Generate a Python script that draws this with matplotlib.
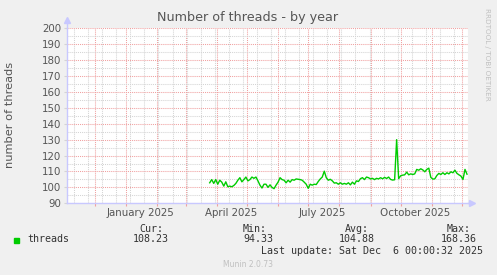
import matplotlib
matplotlib.use('Agg')
import matplotlib.pyplot as plt
import matplotlib.dates as mdates
import pandas as pd
import numpy as np

# series: one sample every 2 days, starting late March 2025
start_date = '2025-03-25'
step = '2D'
threads = [
    102.9, 104.9, 102.5, 104.9, 102.0, 104.5, 103.3, 100.8, 103.5, 100.4,
    100.8, 100.4, 101.2, 102.5, 104.5, 106.1, 103.5, 104.9, 106.5, 104.1,
    104.9, 106.5, 105.7, 106.5, 104.1, 101.4, 99.6, 102.0, 102.0, 100.0,
    101.6, 100.0, 99.2, 101.4, 103.3, 106.1, 104.9, 104.5, 102.9, 104.5,
    103.3, 104.9, 104.5, 105.3,
    105.1, 104.9, 104.5, 103.3, 102.0, 99.4, 102.0, 101.4, 102.0, 101.8,
    103.7, 105.3, 106.5, 110.2, 106.1, 104.5, 105.1, 104.1, 102.7, 102.9,
    102.0, 102.9, 102.0, 102.5, 102.0, 102.9, 101.6, 103.3, 102.0, 104.1,
    103.7, 105.5, 106.1, 104.9, 106.5, 106.1, 105.3, 105.7, 104.9, 105.7,
    105.3, 106.1,
    105.4, 106.3, 105.6, 106.5, 105.0, 104.6, 104.8, 130.0, 105.5, 107.3,
    107.7, 107.9, 109.6, 107.9, 108.5, 108.1, 108.5, 111.3, 110.8, 111.7,
    111.0, 109.8, 111.3, 112.1, 106.3, 105.2, 105.4, 107.5, 108.8, 108.1,
    109.2, 108.1, 109.2, 108.5, 109.8, 109.2, 110.8, 108.8, 107.9, 107.1,
    105.0, 111.3, 108.3,
]

x_start = '2024-11-03'
x_end = '2025-12-07'
month_labels = ['January 2025', 'April 2025', 'July 2025', 'October 2025']
month_label_dates = ['2025-01-15', '2025-04-15', '2025-07-15', '2025-10-15']

stat_names = ['Cur:', 'Min:', 'Avg:', 'Max:']
stat_values = ['108.23', '94.33', '104.88', '168.36']

BG = '#F0F0F0'
AXIS = '#C8C8FF'
MAJOR = '#F0A0A0'
MINOR = '#D4D4D4'
TXT = '#555555'

fig = plt.figure(figsize=(4.97, 2.75), dpi=100, facecolor=BG)
ax = fig.add_axes([67 / 497, 1 - 203.3 / 275, 401 / 497, 175 / 275])
ax.set_facecolor('white')

dates = pd.date_range(start_date, periods=len(threads), freq=step)
ax.plot(dates, threads, color='#00CC00', linewidth=1.0, zorder=3)

ax.set_xlim(pd.Timestamp(x_start), pd.Timestamp(x_end))
ax.set_ylim(90, 200)

# grids: 1px dots, red for major, grey for minor
ax.xaxis.set_major_locator(mdates.MonthLocator())
ax.set_xticks(pd.date_range('2024-11-10', x_end, freq='14D'), minor=True)
ax.set_yticks(np.arange(90, 201, 10))
ax.set_yticks(np.arange(95, 200, 10), minor=True)
ax.grid(True, which='minor', color=MINOR, linestyle=(0, (1, 1)), linewidth=0.75)
ax.grid(True, which='major', color=MAJOR, linestyle=(0, (1, 1)), linewidth=0.75)
ax.set_axisbelow(True)

ax.set_xticklabels([])
ax.tick_params(axis='x', which='major', length=2, color=MAJOR, labelbottom=False)
ax.tick_params(axis='x', which='minor', length=0)
ax.tick_params(axis='y', which='major', length=2, color=MINOR, labelsize=7.4,
               labelcolor=TXT, pad=2)
ax.tick_params(axis='y', which='minor', length=0)

for lbl, d in zip(month_labels, month_label_dates):
    ax.text(pd.Timestamp(d), -0.025, lbl, transform=ax.get_xaxis_transform(),
            ha='center', va='top', fontsize=7.4, color=TXT)

for side in ['top', 'right']:
    ax.spines[side].set_visible(False)
for side in ['left', 'bottom']:
    ax.spines[side].set_color(AXIS)
    ax.spines[side].set_linewidth(1.0)
# axis arrows
ax.plot([0, 0], [1, 1.045], color=AXIS, lw=1.0, transform=ax.transAxes, clip_on=False)
ax.plot([0], [1.045], marker='^', color=AXIS, ms=4, transform=ax.transAxes, clip_on=False)
ax.plot([1, 1.01], [0, 0], color=AXIS, lw=1.0, transform=ax.transAxes, clip_on=False)
ax.plot([1.01], [0], marker='>', color=AXIS, ms=4, transform=ax.transAxes, clip_on=False)

fig.text(248 / 497, 1 - 18 / 275, 'Number of threads - by year', ha='center',
         va='center', fontsize=9.2, color=TXT)
fig.text(10 / 497, 1 - 115 / 275, 'number of threads', rotation=90, ha='center',
         va='center', fontsize=8.2, color=TXT)
fig.text(487 / 497, 1 - 54 / 275, 'RRDTOOL / TOBI OETIKER', rotation=270,
         ha='center', va='center', fontsize=5.2, color='#C0C0C0')

# legend area
fig.patches.append(plt.Rectangle((14 / 497, 1 - 243 / 275), 5 / 497, 5 / 275,
                                 transform=fig.transFigure, color='#00CC00'))
mono = dict(family='DejaVu Sans Mono', fontsize=7.2, color='#333333')
fig.text(27 / 497, 1 - 239.5 / 275, 'threads', ha='left', va='center', **mono)
stat_right = [169, 273, 375, 477]
for name, val, xr in zip(stat_names, stat_values, stat_right):
    fig.text((xr - 6) / 497, 1 - 228.5 / 275, name, ha='right', va='center', **mono)
    fig.text(xr / 497, 1 - 239.5 / 275, val, ha='right', va='center', **mono)
fig.text(483 / 497, 1 - 251.5 / 275, 'Last update: Sat Dec  6 00:00:32 2025',
         ha='right', va='center', **mono)
fig.text(248 / 497, 1 - 264.5 / 275, 'Munin 2.0.73', ha='center', va='center',
         fontsize=5.5, color='#C0C0C0')

fig.savefig('out.png', dpi=100, facecolor=BG)
